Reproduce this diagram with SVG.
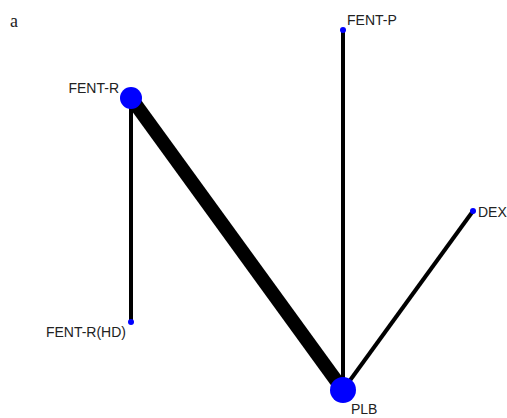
<svg xmlns="http://www.w3.org/2000/svg" width="507" height="418" viewBox="0 0 507 418">
<style>
.e{stroke:#000;stroke-linecap:butt}
.n{fill:#0000ff}
.l{font-family:"Liberation Sans",Arial,sans-serif;font-size:14px;fill:#222}
</style>
<rect width="507" height="418" fill="#fff"/>
<text x="10" y="27" style="font-family:'Liberation Serif',serif;font-size:18px;fill:#222">a</text>
<g id="connectors">
<line class="e" x1="131" y1="98" x2="343" y2="390" stroke-width="14"/>
<line class="e" x1="131" y1="98" x2="131" y2="322" stroke-width="4"/>
<line class="e" x1="343" y1="30" x2="343" y2="390" stroke-width="4"/>
<line class="e" x1="473" y1="211" x2="343" y2="390" stroke-width="4"/>
</g>
<g id="FENT-R"><circle class="n" cx="131" cy="98" r="11"/><text class="l" x="119" y="93" text-anchor="end">FENT-R</text></g>
<g id="FENT-P"><circle class="n" cx="343" cy="30" r="3"/><text class="l" x="347" y="25">FENT-P</text></g>
<g id="DEX"><circle class="n" cx="473" cy="211" r="3"/><text class="l" x="478" y="217">DEX</text></g>
<g id="FENT-R-HD"><circle class="n" cx="131" cy="322" r="3"/><text class="l" x="126" y="337" text-anchor="end">FENT-R(HD)</text></g>
<g id="PLB"><circle class="n" cx="343" cy="390" r="13"/><text class="l" x="351" y="414">PLB</text></g>
</svg>
